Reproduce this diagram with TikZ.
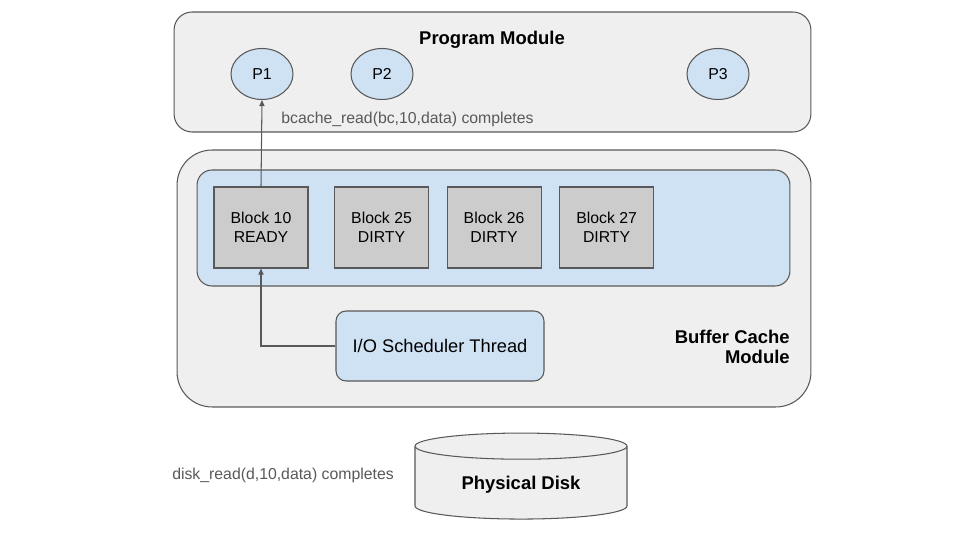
\documentclass[tikz,border=0pt]{standalone}
\usepackage{fontspec}
\setmainfont{Liberation Sans}
\usepackage{tikz}
\usetikzlibrary{positioning,shapes.geometric,arrows.meta}
\definecolor{boxgray}{HTML}{EFEFEF}
\definecolor{linegray}{HTML}{595959}
\definecolor{lightblue}{HTML}{CFE2F3}
\definecolor{blockgray}{HTML}{CCCCCC}
\tikzset{module box/.style={rectangle,draw=linegray,fill=boxgray,line width=0.6pt},
	proc node/.style={ellipse,draw=linegray,fill=lightblue,line width=0.6pt,minimum width=1.24cm,minimum height=1.02cm,inner sep=0pt,font=\fontsize{9}{10.8}\selectfont},
	block node/.style={rectangle,draw=linegray,fill=blockgray,line width=0.6pt,minimum width=1.88cm,minimum height=1.62cm,inner sep=0pt,align=center,font=\fontsize{9}{10.8}\selectfont},
	title text/.style={font=\fontsize{10.5}{11.3}\selectfont\bfseries},
	call text/.style={text=linegray,inner sep=0pt,font=\fontsize{9}{10.8}\selectfont},
}

\begin{document}
\begin{tikzpicture}[x=0.02cm,y=-0.02cm,node distance = 0.35cm,>={Triangle[length=3.5pt,width=3pt]}]
	\useasboundingbox (0,0) rectangle (960,540);
	% program module
	\node[module box,rounded corners=0.36cm,minimum width=12.74cm,minimum height=2.4cm] (prog) at (492.5,72){};
	\node[title text] (progtitle) at (492,39.5){Program Module};
	\node[proc node] (p1) at (262,74){P1};
	\node[proc node] (p2) at (382,74){P2};
	\node[proc node] (p3) at (718,74){P3};
	\node[call text,anchor=west] (bcread) at (281,119.5){bcache\_read(bc,10,data) completes};
	
	% buffer cache module
	\node[module box,rounded corners=0.7cm,minimum width=12.68cm,minimum height=5.14cm] (bcache) at (494,278.5){};
	\node[rectangle,draw=linegray,fill=lightblue,line width=0.6pt,rounded corners=0.3cm,minimum width=11.86cm,minimum height=2.32cm] (cache) at (493.5,228){};
	\node[block node] (b10) at (261,227.5){Block 10\\READY};
	\node[block node] (b25)[right = 0.51cm of b10]{Block 25\\DIRTY};
	\node[block node] (b26)[right = of b25]{Block 26\\DIRTY};
	\node[block node] (b27)[right = of b26]{Block 27\\DIRTY};
	\node[rectangle,draw=linegray,fill=lightblue,line width=0.6pt,rounded corners=0.2cm,minimum width=4.16cm,minimum height=1.4cm,font=\fontsize{10.4}{12}\selectfont] (io) at (440,346){I/O Scheduler Thread};
	\node[title text,align=right,anchor=east,inner sep=0pt] (bctitle) at (790,347){Buffer Cache\\Module};
	
	% disk
	\node[cylinder,shape border rotate=90,draw=linegray,fill=boxgray,line width=0.6pt,minimum width=4.24cm,minimum height=1.72cm,aspect=0.2,title text] (disk) at (521,485){Physical Disk};
	\node[call text] (dkread) at (283,475.5){disk\_read(d,10,data) completes};
	
	\draw[->,linegray,line width=0.6pt] (io.west) -| (b10.south);
	\draw[->,linegray,line width=0.6pt] (b10.north) -- (p1.south);
\end{tikzpicture}
\end{document}
